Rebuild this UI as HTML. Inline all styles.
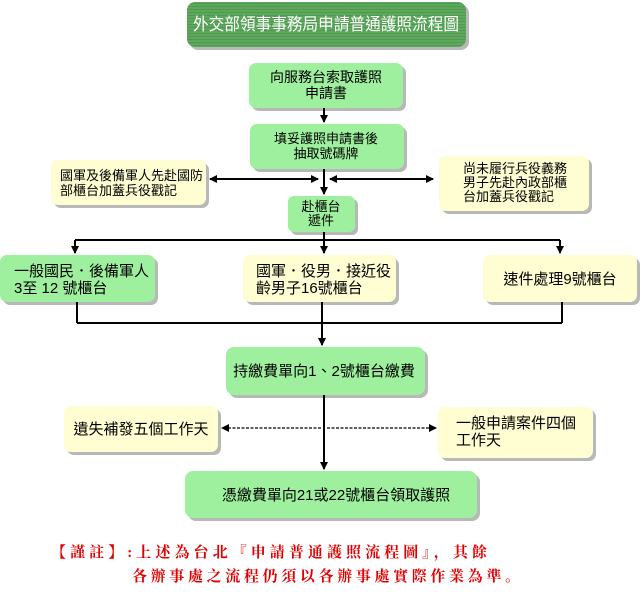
<!DOCTYPE html>
<html><head><meta charset="utf-8"><style>
html,body{margin:0;padding:0;background:#fff;}
svg{display:block;}
text{font-family:"Liberation Sans","Noto Sans CJK TC","WenQuanYi Zen Hei",sans-serif;font-size:13px;fill:#000;}
.r{font-family:"Liberation Serif","Noto Serif CJK SC",serif;fill:#e00000;font-size:15px;font-weight:bold;}
</style></head><body>
<svg width="644" height="607" viewBox="0 0 644 607" xmlns="http://www.w3.org/2000/svg">
<defs>
<marker id="a" markerWidth="8" markerHeight="8" refX="7" refY="4" orient="auto" markerUnits="userSpaceOnUse"><path d="M0,0 L8,4 L0,8 z" fill="#000"/></marker>
<pattern id="st" width="4" height="3" patternUnits="userSpaceOnUse"><rect width="4" height="3" fill="#5ea85e"/><rect width="4" height="1" fill="#4f9a4f"/></pattern>
</defs>
<g fill="#b8b8b8">
<rect x="190" y="5" width="279" height="45" rx="8"/>
<rect x="252" y="66" width="154" height="45" rx="7"/>
<rect x="253" y="127" width="154" height="45" rx="7"/>
<rect x="54" y="163" width="155" height="45" rx="7"/>
<rect x="442" y="159" width="150" height="55" rx="7"/>
<rect x="291" y="199" width="67" height="36" rx="6"/>
<rect x="3" y="258" width="155" height="47" rx="7"/>
<rect x="246" y="258" width="153" height="47" rx="7"/>
<rect x="486" y="258" width="154" height="47" rx="7"/>
<rect x="229" y="350" width="199" height="48" rx="8"/>
<rect x="67" y="409" width="154" height="46" rx="7"/>
<rect x="441" y="410" width="155" height="51" rx="7"/>
<rect x="188" y="474" width="292" height="47" rx="8"/>
</g>
<rect x="187" y="2" width="279" height="45" rx="8" fill="url(#st)"/>
<text x="326" y="30" text-anchor="middle" style="fill:#fff;font-size:17px" textLength="266" lengthAdjust="spacingAndGlyphs">外交部領事事務局申請普通護照流程圖</text>
<g fill="#9ef09e">
<rect x="249" y="63" width="154" height="45" rx="7"/>
<rect x="250" y="124" width="154" height="45" rx="7"/>
<rect x="288" y="196" width="67" height="36" rx="6"/>
<rect x="0" y="255" width="155" height="47" rx="7"/>
<rect x="226" y="347" width="199" height="48" rx="8"/>
<rect x="185" y="471" width="292" height="47" rx="8"/>
</g>
<g fill="#fefed2">
<rect x="51" y="160" width="155" height="45" rx="7"/>
<rect x="439" y="156" width="150" height="55" rx="7"/>
<rect x="243" y="255" width="153" height="47" rx="7"/>
<rect x="483" y="255" width="154" height="47" rx="7"/>
<rect x="64" y="406" width="154" height="46" rx="7"/>
<rect x="438" y="407" width="155" height="51" rx="7"/>
</g>
<g stroke="#000" stroke-width="2" fill="none">
<line x1="324" y1="108" x2="324" y2="122" marker-end="url(#a)"/>
<line x1="324" y1="169" x2="324" y2="194" marker-end="url(#a)"/>
<line x1="318" y1="179" x2="210" y2="179" marker-end="url(#a)"/>
<line x1="210" y1="179" x2="318" y2="179" marker-end="url(#a)"/>
<line x1="330" y1="179" x2="433" y2="179" marker-end="url(#a)"/>
<line x1="433" y1="179" x2="330" y2="179" marker-end="url(#a)"/>
<line x1="324" y1="232" x2="324" y2="240"/>
<line x1="75" y1="240" x2="560" y2="240"/>
<line x1="75" y1="240" x2="75" y2="253" marker-end="url(#a)"/>
<line x1="324" y1="240" x2="324" y2="253" marker-end="url(#a)"/>
<line x1="560" y1="240" x2="560" y2="253" marker-end="url(#a)"/>
<line x1="77" y1="302" x2="77" y2="323"/>
<line x1="322" y1="302" x2="322" y2="323"/>
<line x1="562" y1="302" x2="562" y2="323"/>
<line x1="77" y1="323" x2="562" y2="323"/>
<line x1="322" y1="323" x2="322" y2="345" marker-end="url(#a)"/>
<line x1="324" y1="395" x2="324" y2="469" marker-end="url(#a)"/>
</g>
<g stroke="#000" stroke-width="1.2" stroke-dasharray="3,1.5" fill="none">
<line x1="321" y1="428" x2="222" y2="428" marker-end="url(#a)"/>
<line x1="327" y1="428" x2="436" y2="428" marker-end="url(#a)"/>
</g>
<text x="326" y="82" text-anchor="middle" style="font-size:14px">向服務台索取護照</text>
<text x="326" y="98" text-anchor="middle" style="font-size:14px">申請書</text>
<text x="326" y="143" text-anchor="middle">填妥護照申請書後</text>
<text x="326" y="158" text-anchor="middle">抽取號碼牌</text>
<text x="60" y="180">國軍及後備軍人先赴國防</text>
<text x="60" y="195">部櫃台加蓋兵役戳記</text>
<text x="463" y="173">尚未履行兵役義務</text>
<text x="463" y="187">男子先赴內政部櫃</text>
<text x="463" y="201">台加蓋兵役戳記</text>
<text x="321" y="211" text-anchor="middle">赴櫃台</text>
<text x="321" y="225" text-anchor="middle">遞件</text>
<text x="14" y="276" style="font-size:15px">一般國民．後備軍人</text>
<text x="14" y="293" style="font-size:15px">3至 12 號櫃台</text>
<text x="256" y="276" style="font-size:15px">國軍．役男．接近役</text>
<text x="256" y="293" style="font-size:15px">齡男子16號櫃台</text>
<text x="560" y="284" text-anchor="middle" style="font-size:15px">速件處理9號櫃台</text>
<text x="324" y="376" text-anchor="middle" style="font-size:15px">持繳費單向1、2號櫃台繳費</text>
<text x="141" y="434" text-anchor="middle" style="font-size:15px">遺失補發五個工作天</text>
<text x="456" y="428" style="font-size:15px">一般申請案件四個</text>
<text x="456" y="445" style="font-size:15px">工作天</text>
<text x="336" y="500" text-anchor="middle" style="font-size:15px">憑繳費單向21或22號櫃台領取護照</text>
<text class="r" x="51" y="557" textLength="436" lengthAdjust="spacing">【謹註】:上述為台北『申請普通護照流程圖』，其餘</text>
<text class="r" x="132" y="581" textLength="388" lengthAdjust="spacing">各辦事處之流程仍須以各辦事處實際作業為準。</text>
</svg>
</body></html>
